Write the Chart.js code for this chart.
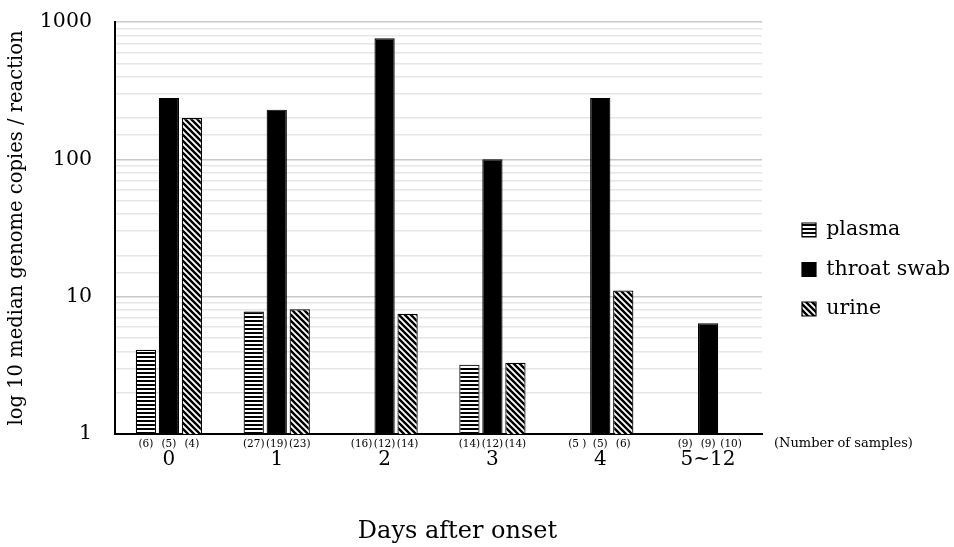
<!DOCTYPE html>
<html><head><meta charset="utf-8">
<script src="https://cdn.jsdelivr.net/npm/chart.js@4/dist/chart.umd.min.js"></script>
<style>html,body{margin:0;padding:0;background:#fff}#w{width:954px;height:547px}</style>
</head><body><div id="w"><canvas id="c"></canvas></div>
<script>
const categories = ['0', '1', '2', '3', '4', '5~12'];
const plasma = [4.1, 7.8, null, 3.2, null, null];
const throatSwab = [280, 230, 760, 100, 280, 6.4];
const urine = [200, 8.1, 7.5, 3.3, 11.1, null];
const plasmaN = ['(6)', '(27)', '(16)', '(14)', '(5 )', '(9)'];
const throatN = ['(5)', '(19)', '(12)', '(12)', '(5)', '(9)'];
const urineN = ['(4)', '(23)', '(14)', '(14)', '(6)', '(10)'];
const yTickValues = [1, 10, 100, 1000];
const xTitle = 'Days after onset';
const samplesNote = '(Number of samples)';

function hPattern() {
  const c = document.createElement('canvas'); c.width = 4; c.height = 4;
  const g = c.getContext('2d');
  g.fillStyle = '#fff'; g.fillRect(0, 0, 4, 4);
  g.fillStyle = '#000'; g.fillRect(0, 0, 4, 2);
  return g.createPattern(c, 'repeat');
}
function dPattern() {
  const s = 6;
  const c = document.createElement('canvas'); c.width = s; c.height = s;
  const g = c.getContext('2d');
  g.fillStyle = '#fff'; g.fillRect(0, 0, s, s);
  g.strokeStyle = '#000'; g.lineWidth = 2.4;
  g.beginPath();
  g.moveTo(-1, -1); g.lineTo(s + 1, s + 1);
  g.moveTo(-1, s - 1); g.lineTo(1, s + 1);
  g.moveTo(s - 1, -1); g.lineTo(s + 1, 1);
  g.stroke();
  return g.createPattern(c, 'repeat');
}

const serif = '"DejaVu Serif"';

const countsPlugin = {
  id: 'counts',
  afterDraw(chart) {
    const ctx = chart.ctx;
    const xs = chart.scales.x;
    const lists = [plasmaN, throatN, urineN];
    const y = xs.top + 10;
    ctx.save();
    ctx.font = '10.5px ' + serif;
    ctx.fillStyle = '#000';
    ctx.textAlign = 'center';
    ctx.textBaseline = 'middle';
    lists.forEach((lst, i) => {
      const meta = chart.getDatasetMeta(i);
      lst.forEach((t, j) => {
        const el = meta.data[j];
        if (el) ctx.fillText(t, el.x, y);
      });
    });
    ctx.textAlign = 'left';
    ctx.font = '13px ' + serif;
    ctx.fillText(samplesNote, xs.right + 12, y);
    // axis title
    ctx.textAlign = 'center';
    ctx.font = '24px ' + serif;
    ctx.fillText(xTitle, (xs.left + xs.right) / 2 + 19, xs.bottom + 15);
    ctx.restore();
  }
};

new Chart(document.getElementById('c'), {
  type: 'bar',
  data: {
    labels: categories,
    datasets: [
      { label: 'plasma', data: plasma, backgroundColor: hPattern(), borderColor: '#000', borderWidth: 1.2 },
      { label: 'throat swab', data: throatSwab, backgroundColor: '#000', borderColor: '#000', borderWidth: 1.2 },
      { label: 'urine', data: urine, backgroundColor: dPattern(), borderColor: '#000', borderWidth: 1.2 }
    ]
  },
  options: {
    responsive: true,
    maintainAspectRatio: false,
    animation: false,
    categoryPercentage: 0.64,
    barPercentage: 0.88,
    layout: { padding: { top: 22, left: 5, right: 0, bottom: 30 } },
    plugins: {
      tooltip: { enabled: false },
      legend: {
        position: 'right',
        maxWidth: 171,
        labels: {
          boxWidth: 14, boxHeight: 14, padding: 19,
          color: '#000',
          font: { family: serif, size: 20.5 }
        }
      }
    },
    scales: {
      x: {
        grid: { display: false },
        border: { color: '#000', width: 2 },
        ticks: { color: '#000', font: { family: serif, size: 20 }, padding: 6 },
        afterFit: s => { s.height = 83; }
      },
      y: {
        type: 'logarithmic',
        min: 1, max: 1000,
        border: { color: '#000', width: 2 },
        grid: {
          drawTicks: true, tickLength: 23, tickColor: 'rgba(0,0,0,0)',
          color: c => (yTickValues.includes(c.tick.value) ? '#c8c8c8' : '#e6e6e6'),
          lineWidth: c => (yTickValues.includes(c.tick.value) ? 1.6 : 1.4)
        },
        ticks: {
          color: '#000', font: { family: serif, size: 20.5 }, padding: 0,
          autoSkip: false,
          callback: v => (yTickValues.includes(v) ? String(v) : '')
        },
        title: { display: true, text: 'log 10 median genome copies / reaction', color: '#000', font: { family: serif, size: 19.5 }, padding: { top: 0, bottom: 10 } },
        afterFit: s => { s.width = 110; }
      },
      gap: {
        type: 'linear', position: 'right', display: true,
        grid: { display: false }, border: { display: false }, ticks: { display: false },
        afterFit: s => { s.width = 21; }
      }
    }
  },
  plugins: [countsPlugin]
});
</script></body></html>
